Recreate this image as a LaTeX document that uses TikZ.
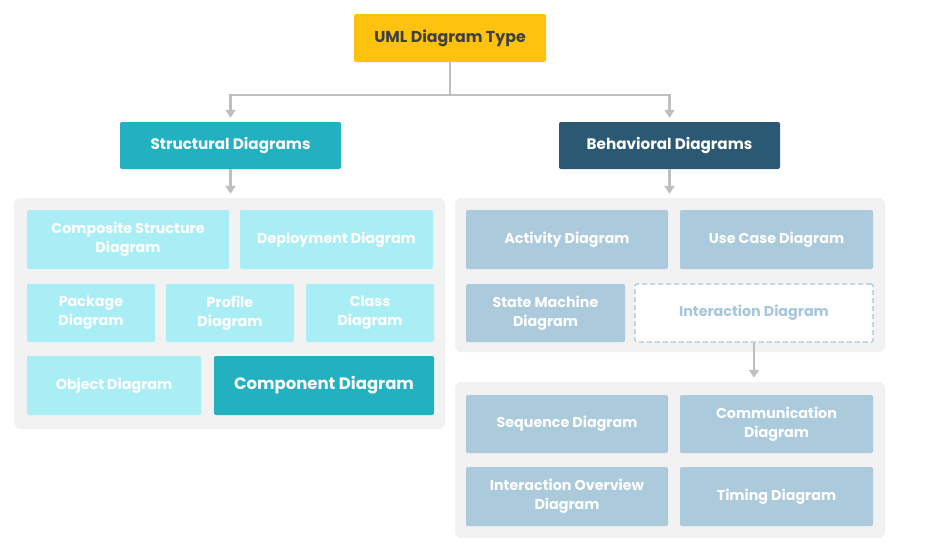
\documentclass[tikz,border=0pt]{standalone}
\usepackage{fontspec}
\setmainfont{Poppins}
\usetikzlibrary{positioning}
\usetikzlibrary{arrows.meta}
\pgfdeclarelayer{panellayer}
\pgfsetlayers{panellayer,main}
\definecolor{rootfill}{HTML}{FFC20E}
\definecolor{roottext}{HTML}{404040}
\definecolor{structfill}{HTML}{23B0C0}
\definecolor{behavfill}{HTML}{2B5872}
\definecolor{lightcyan}{HTML}{AAEEF5}
\definecolor{lightsteel}{HTML}{ABCADC}
\definecolor{panelgray}{HTML}{F2F2F2}
\definecolor{linegray}{HTML}{BFBFBF}
\definecolor{dashblue}{HTML}{A6C6DA}
\tikzset{
    box/.style = {rounded corners=2pt, inner sep=0pt, align=center, text=white,
        font=\bfseries\fontsize{14.3}{19}\selectfont},
    rootbox/.style = {box, fill=rootfill, text=roottext, font=\bfseries\fontsize{15.8}{19}\selectfont},
    headbox/.style = {box, font=\bfseries\fontsize{15.2}{19}\selectfont},
    cyanbox/.style = {box, fill=lightcyan},
    steelbox/.style = {box, fill=lightsteel},
    panel/.style = {rounded corners=6pt, fill=panelgray, inner sep=0pt},
    conn/.style = {draw=linegray, line width=2.5pt,
        -{Triangle[length=8pt,width=10pt]}, shorten >=4pt}
}
\begin{document}
\begin{tikzpicture}[x=1pt, y=-1pt]
    \useasboundingbox (0,0) rectangle (926,552);
    % top of the tree
    \node [rootbox, minimum width=192pt, minimum height=48pt] (root) at (450,38) {UML Diagram Type};
    \node [headbox, fill=structfill, minimum width=221pt, minimum height=47pt] (struct) at (230.5,145.5) {Structural Diagrams};
    \node [headbox, fill=behavfill, minimum width=221pt, minimum height=47pt] (behav) at (669.5,145.5) {Behavioral Diagrams};
    % panels
    \begin{pgfonlayer}{panellayer}
        \node [panel, minimum width=431pt, minimum height=231pt] (spanel) at (229.5,313.5) {};
        \node [panel, minimum width=430pt, minimum height=154pt] (bpanel) at (670,275) {};
        \node [panel, minimum width=430pt, minimum height=156pt] (ipanel) at (670,460) {};
    \end{pgfonlayer}
    % structural diagrams
    \node [cyanbox, minimum width=202pt, minimum height=59pt] (composite) at (128,239.5) {Composite Structure\\Diagram};
    \node [cyanbox, minimum width=193pt, minimum height=59pt] (deploy) at (336.5,239.5) {Deployment Diagram};
    \node [cyanbox, minimum width=128pt, minimum height=58pt] (package) at (91,313) {Package\\Diagram};
    \node [cyanbox, minimum width=128pt, minimum height=58pt] (profile) at (230,313) {Profile\\Diagram};
    \node [cyanbox, minimum width=128pt, minimum height=58pt] (class) at (370,313) {Class\\Diagram};
    \node [cyanbox, minimum width=174pt, minimum height=59pt] (object) at (114,385.5) {Object Diagram};
    \node [box, fill=structfill, minimum width=220pt, minimum height=59pt,
        font=\bfseries\fontsize{16.5}{19}\selectfont] (component) at (324,385.5) {Component Diagram};
    % behavioral diagrams
    \node [steelbox, minimum width=202pt, minimum height=59pt] (activity) at (567,239.5) {Activity Diagram};
    \node [steelbox, minimum width=193pt, minimum height=59pt] (usecase) at (776.5,239.5) {Use Case Diagram};
    \node [steelbox, minimum width=159pt, minimum height=58pt] (state) at (545.5,313) {State Machine\\Diagram};
    \node [box, fill=white, draw=dashblue, line width=1.2pt, dash pattern=on 5pt off 3pt,
        text=dashblue, minimum width=238pt, minimum height=58pt] (inter) at (754,313) {Interaction Diagram};
    % interaction diagrams
    \node [steelbox, minimum width=202pt, minimum height=58pt] (sequence) at (567,424) {Sequence Diagram};
    \node [steelbox, minimum width=193pt, minimum height=58pt] (comm) at (776.5,424) {Communication\\Diagram};
    \node [steelbox, minimum width=202pt, minimum height=59pt] (overview) at (567,496.5) {Interaction Overview\\Diagram};
    \node [steelbox, minimum width=193pt, minimum height=59pt] (timing) at (776.5,496.5) {Timing Diagram};
    % connectors
    \draw [conn] (root.south) -- ++(0,33) -| (struct.north);
    \draw [conn] (root.south) -- ++(0,33) -| (behav.north);
    \draw [conn] (struct.south) -- (struct.south |- spanel.north);
    \draw [conn] (behav.south) -- (behav.south |- bpanel.north);
    \draw [conn] (inter.south) -- (inter.south |- ipanel.north);
\end{tikzpicture}
\end{document}
